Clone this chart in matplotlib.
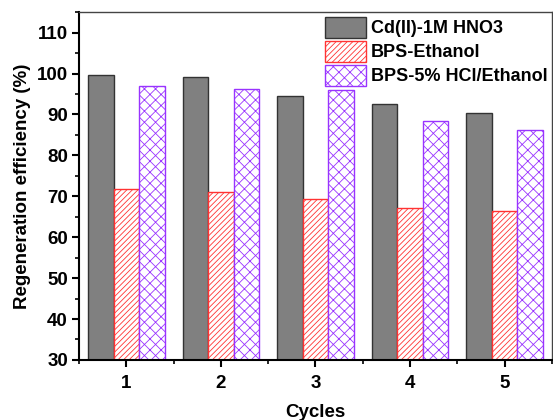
import matplotlib
matplotlib.use("Agg")
import matplotlib.pyplot as plt
import numpy as np
from matplotlib.ticker import MultipleLocator

cycles = [1, 2, 3, 4, 5]
cd_hno3 = [99.6, 99.2, 94.4, 92.6, 90.4]
bps_ethanol = [71.8, 71.0, 69.3, 67.1, 66.5]
bps_hcl = [96.9, 96.3, 95.9, 88.4, 86.3]
labels = ["Cd(II)-1M HNO3", "BPS-Ethanol", "BPS-5% HCl/Ethanol"]

plt.rcParams['font.family'] = ['Liberation Sans', 'DejaVu Sans']
plt.rcParams['font.weight'] = 'bold'
plt.rcParams['hatch.linewidth'] = 0.6

fig = plt.figure(figsize=(5.53, 4.2), dpi=100)
ax = fig.add_axes([0.143, 0.143, 0.855, 0.828])

x = np.array(cycles, dtype=float)
w = 0.27
ax.bar(x - w, cd_hno3, w, facecolor='#808080', edgecolor='#333333', linewidth=1.0, label=labels[0])
plt.rcParams['hatch.color'] = '#ff3333'
ax.bar(x, bps_ethanol, w, facecolor='white', edgecolor='#ff3333', hatch='//////', linewidth=1.0, label=labels[1])
ax.bar(x + w, bps_hcl, w, facecolor='white', edgecolor='#9933ff', hatch='xxx', linewidth=1.0, label=labels[2])

ax.set_xlim(0.5, 5.5)
ax.set_ylim(30, 115)
ax.set_xticks(cycles)
ax.xaxis.set_minor_locator(MultipleLocator(0.5))
ax.yaxis.set_major_locator(MultipleLocator(10))
ax.yaxis.set_minor_locator(MultipleLocator(5))
ax.tick_params(axis='both', which='major', direction='out', length=5, width=1.5, labelsize=13.5)
ax.tick_params(axis='both', which='minor', direction='out', length=3, width=1.2)
ax.tick_params(axis='x', pad=6)
ax.tick_params(axis='y', pad=3)
for lab in ax.get_xticklabels() + ax.get_yticklabels():
    lab.set_fontweight('bold')
for s in ['left', 'bottom']:
    ax.spines[s].set_linewidth(1.5)
for s in ['top', 'right']:
    ax.spines[s].set_linewidth(1.0)
    ax.spines[s].set_color('#444444')

ax.set_xlabel('Cycles', fontsize=13.5, fontweight='bold')
ax.xaxis.set_label_coords(0.5, -0.128)
ax.xaxis.label.set_verticalalignment('top')
ax.set_ylabel('Regeneration efficiency (%)', fontsize=13.5, fontweight='bold', labelpad=4)

leg = ax.legend(loc='upper right', bbox_to_anchor=(0.997, 0.995), frameon=False,
                handlelength=2.27, handleheight=1.45, borderpad=0.0,
                borderaxespad=0.15, labelspacing=0.14, handletextpad=0.3,
                prop={'weight': 'bold', 'size': 13.0})

fig.savefig('out.png', dpi=100)
